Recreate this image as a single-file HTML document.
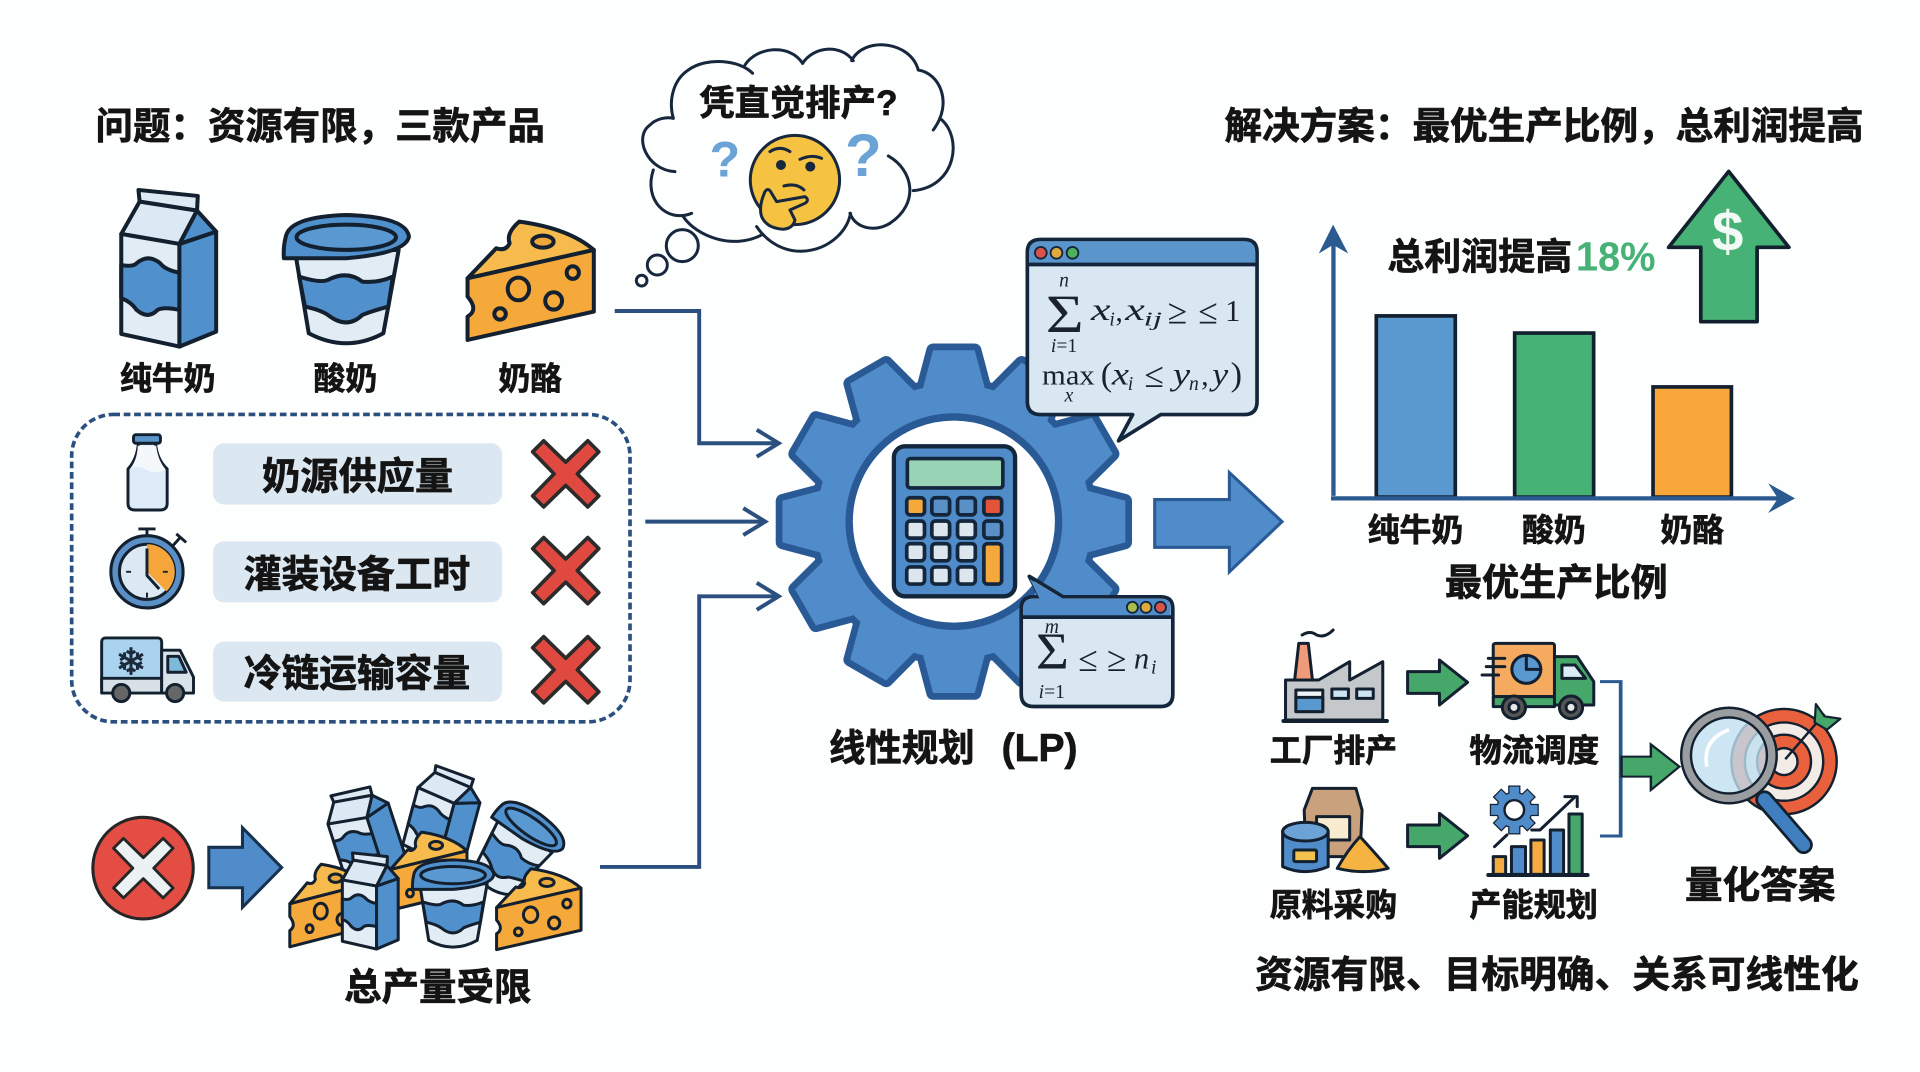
<!DOCTYPE html>
<html lang="zh">
<head>
<meta charset="utf-8">
<title>线性规划</title>
<style>
html,body{margin:0;padding:0;background:#fdfefe;width:1920px;height:1072px;overflow:hidden}
svg{display:block}
text{font-family:"Liberation Sans","Noto Sans CJK SC",sans-serif}
.t{font-weight:700;fill:#141414;stroke:#141414;stroke-width:.55px}
.m{font-family:"Liberation Serif","DejaVu Serif",serif;fill:#1a2230}
.i{font-style:italic}
.s *{vector-effect:non-scaling-stroke;stroke-linejoin:round;stroke-linecap:round}
.s{stroke:#13202f}
</style>
</head>
<body>
<svg xmlns="http://www.w3.org/2000/svg" width="1920" height="1072" viewBox="0 0 1568 875.5">
<defs>
<g id="carton" class="s">
<path d="M205 330L360 348L358 392L208 365Z" fill="#dde9f3"/>
<path d="M160 462L208 365L358 392L312 492Z" fill="#dce8f3"/>
<path d="M160 462L312 492L312 800L160 762Z" fill="#e2ecf4"/>
<path d="M160 555Q190 562 200 550Q230 520 262 550Q275 570 312 578L312 690Q270 680 255 690Q230 720 200 690Q185 665 160 655Z" fill="#5090cc"/>
<path d="M312 492L408 455L408 755L312 800Z" fill="#5090cc"/>
<path d="M358 392L408 455L312 492Z" fill="#5090cc"/>
</g>
<g id="cup" class="s">
<path d="M615 520L650 760Q748 820 845 760L885 510Z" fill="#e2ecf4"/>
<path d="M625 590Q680 610 700 600Q750 570 790 605Q830 610 870 590L858 680Q810 695 790 705Q750 750 700 705Q680 690 640 680Z" fill="#5090cc"/>
<path d="M590 470Q600 410 748 405Q905 410 912 470Q905 520 748 535Q650 535 585 535Q583 500 590 470Z" fill="#5090cc"/>
<ellipse cx="748" cy="472" rx="130" ry="38" fill="#5a98d2"/>
</g>
<g id="cheese" class="s">
<path d="M1065 595L1140 505Q1165 515 1175 490Q1165 460 1200 425Q1330 445 1395 510Z" fill="#f6bb4c"/>
<path d="M1065 595L1395 510L1395 695L1065 780L1065 710Q1095 690 1065 650Z" fill="#f5a93b"/>
<ellipse cx="1262" cy="485" rx="28" ry="18" fill="#eda63c"/>
<ellipse cx="1198" cy="627" rx="28" ry="34" fill="#f5a93b"/>
<ellipse cx="1290" cy="663" rx="22" ry="26" fill="#f5a93b"/>
<ellipse cx="1150" cy="702" rx="15" ry="17" fill="#f5a93b"/>
<ellipse cx="1340" cy="578" rx="16" ry="19" fill="#f5a93b"/>
</g>
<polygon id="cross" points="-27,-18 -18,-27 0,-9.500 18,-27 27,-18 9.500,0 27,18 18,27 0,9.500 -18,27 -27,18 -9.500,0"/>
<polygon id="tooth" points="-26,-106 -17,-140 17,-140 26,-106"/>
<g id="gearshape">
<circle r="112"/>
<use href="#tooth"/><use href="#tooth" transform="rotate(30)"/><use href="#tooth" transform="rotate(60)"/><use href="#tooth" transform="rotate(90)"/><use href="#tooth" transform="rotate(120)"/><use href="#tooth" transform="rotate(150)"/><use href="#tooth" transform="rotate(180)"/><use href="#tooth" transform="rotate(210)"/><use href="#tooth" transform="rotate(240)"/><use href="#tooth" transform="rotate(270)"/><use href="#tooth" transform="rotate(300)"/><use href="#tooth" transform="rotate(330)"/>
</g>
<rect id="sgt" x="-4" y="-19" width="8" height="8"/>
<g id="sgear">
<circle r="14"/>
<use href="#sgt"/><use href="#sgt" transform="rotate(45)"/><use href="#sgt" transform="rotate(90)"/><use href="#sgt" transform="rotate(135)"/><use href="#sgt" transform="rotate(180)"/><use href="#sgt" transform="rotate(225)"/><use href="#sgt" transform="rotate(270)"/><use href="#sgt" transform="rotate(315)"/>
</g>
</defs>

<rect width="1568" height="876" fill="#fdfefe"/>

<!-- titles -->
<text class="t" x="78" y="113.600" font-size="30.500" textLength="367" lengthAdjust="spacingAndGlyphs">问题：资源有限，三款产品</text>
<text class="t" x="1000" y="113.600" font-size="30.500" textLength="522" lengthAdjust="spacingAndGlyphs">解决方案：最优生产比例，总利润提高</text>

<!-- products -->
<g transform="translate(49 65.300) scale(.3125 .2722)" stroke-width="4">
<use href="#carton"/><use href="#cup"/><use href="#cheese"/>
</g>
<text class="t" x="98" y="318" font-size="26" textLength="78" lengthAdjust="spacingAndGlyphs">纯牛奶</text>
<text class="t" x="256" y="318" font-size="26" textLength="52" lengthAdjust="spacingAndGlyphs">酸奶</text>
<text class="t" x="407" y="318" font-size="26" textLength="52" lengthAdjust="spacingAndGlyphs">奶酪</text>

<!-- dashed constraints box -->
<rect x="58.500" y="338.500" width="456" height="251" rx="34" fill="none" stroke="#2b5080" stroke-width="3" stroke-dasharray="5.500 3"/>
<rect x="174" y="362" width="236" height="50" rx="9" fill="#dce8f1"/>
<rect x="174" y="442" width="236" height="50" rx="9" fill="#dce8f1"/>
<rect x="174" y="524" width="236" height="49" rx="9" fill="#dce8f1"/>
<text class="t" x="214" y="399.800" font-size="31" textLength="156" lengthAdjust="spacingAndGlyphs">奶源供应量</text>
<text class="t" x="199" y="479.800" font-size="31" textLength="185" lengthAdjust="spacingAndGlyphs">灌装设备工时</text>
<text class="t" x="199" y="560.800" font-size="31" textLength="185" lengthAdjust="spacingAndGlyphs">冷链运输容量</text>
<g fill="#e0493f" stroke="#2b2b2b" stroke-width="3" stroke-linejoin="round">
<use href="#cross" transform="translate(462 387)"/>
<use href="#cross" transform="translate(462 466)"/>
<use href="#cross" transform="translate(462 547)"/>
</g>

<!-- bottle -->
<g stroke="#13202f" stroke-width="2.400" stroke-linejoin="round">
<path d="M113 362H127Q128 375 136.500 383V411Q136.500 416.500 131 416.500H110Q104.500 416.500 104.500 411V383Q112 375 113 362Z" fill="#dcebf7"/>
<path d="M106 383Q113 379 120 384Q128 388 135 383Q129 376 127.500 364H112.500Q112 376 106 383Z" fill="#f4f8fb" stroke="none"/>
<rect x="109" y="355" width="22" height="7" rx="2" fill="#5a95cc"/>
</g>
<!-- stopwatch -->
<g stroke="#13202f" stroke-linejoin="round">
<path d="M113 432H127M120 432V440M140 447L148 438M144 436L152 443" fill="none" stroke-width="2.400"/>
<circle cx="120" cy="467" r="29.500" fill="#5a90c6" stroke-width="2.500"/>
<circle cx="120" cy="467" r="22.500" fill="#dde9f2" stroke-width="2.500"/>
<path d="M120 467V444.500A22.500 22.500 0 0 1 136 483Z" fill="#f5a53a" stroke="none"/>
<path d="M120 448V470L130 481" fill="none" stroke-width="2.400"/>
<path d="M103 467H107M133 467H137M120 484V488" stroke-width="1.600"/>
</g>
<!-- reefer truck -->
<g stroke="#13202f" stroke-width="2.400" stroke-linejoin="round">
<rect x="83" y="521" width="49" height="44" rx="3" fill="#a9d3ef"/>
<rect x="83" y="554" width="49" height="12" fill="#d7e0e6"/>
<path d="M132 531H147L158 553V566H132Z" fill="#d7e2e9"/>
<path d="M137 536H146L152 549H137Z" fill="#7eb9da"/>
<circle cx="99" cy="566" r="7" fill="#666"/>
<circle cx="143" cy="566" r="7" fill="#666"/>
</g>
<text x="107" y="551" font-size="30" text-anchor="middle" fill="#1c2a3c" stroke="#1c2a3c" stroke-width=".7" style="font-family:'DejaVu Sans',sans-serif">❄</text>

<!-- bottom-left -->
<ellipse cx="116.800" cy="709" rx="41" ry="41.500" fill="#e34d43" stroke="#262626" stroke-width="2.500"/>
<g transform="translate(117 709) scale(.9)" fill="#ecf1f4" stroke="#262626" stroke-width="2.600" stroke-linejoin="round"><use href="#cross"/></g>
<polygon points="170.500,692 198,692 198,676 230,708.500 198,741 198,725 170.500,725" fill="#4f8cc9" stroke="#17324f" stroke-width="2.500" stroke-linejoin="miter"/>

<!-- pile -->
<g stroke-width="3">
<use href="#carton" transform="translate(297 680) rotate(-18) scale(.21 .16) translate(-282 -560)"/>
<use href="#carton" transform="translate(362 665) rotate(15) scale(.21 .16) translate(-282 -560)"/>
<use href="#cheese" transform="translate(350 712) scale(.19 .18) translate(-1230 -605)"/>
<use href="#cup" transform="translate(420 695) rotate(35) scale(.19 .19) translate(-748 -598)"/>
<use href="#cheese" transform="translate(268 740) scale(.19 .19) translate(-1230 -605)"/>
<use href="#cheese" transform="translate(440 743) scale(.209 .186) translate(-1230 -605)"/>
<use href="#carton" transform="translate(302 735) scale(.184 .167) translate(-282 -560)"/>
<use href="#cup" transform="translate(370 738) scale(.203 .185) translate(-748 -598)"/>
</g>
<text class="t" x="281" y="816.500" font-size="30.500" textLength="153" lengthAdjust="spacingAndGlyphs">总产量受限</text>

<!-- connectors -->
<g fill="none" stroke="#2b5080" stroke-width="3.200" stroke-linejoin="miter">
<path d="M502 254H571V362H634"/>
<path d="M618 351L636 362L618 373"/>
<path d="M527 426H623"/>
<path d="M607 415L625 426L607 437"/>
<path d="M490 708H571V487H634"/>
<path d="M618 476L636 487L618 498"/>
</g>

<!-- thought cloud -->
<g transform="translate(506.300 24.500) scale(.2722)">
<g fill="none" stroke="#17273e" stroke-width="9" stroke-linecap="round">
<path d="M398 130C360 90 260 80 205 120C160 150 145 210 160 265"/>
<path d="M375 105C410 50 510 40 548 100"/>
<path d="M548 100C580 50 660 40 700 92"/>
<path d="M695 92C730 20 870 30 895 120"/>
<path d="M895 120C960 130 1000 220 940 300"/>
<path d="M960 265C1030 320 1010 470 880 482"/>
<path d="M805 378C880 420 900 520 810 580C770 605 710 600 690 550"/>
<path d="M692 550C670 660 500 720 410 590"/>
<path d="M425 615C340 660 230 620 190 560"/>
<path d="M215 550C140 580 70 510 100 420"/>
<path d="M165 425C80 420 40 320 90 285C110 265 140 260 160 265"/>
<circle cx="187" cy="647" r="48"/>
<circle cx="112" cy="705" r="30"/>
<circle cx="65" cy="752" r="16"/>
</g>
<text x="315" y="440" font-size="150" font-weight="700" text-anchor="middle" fill="#6ba3d6">?</text>
<text x="730" y="438" font-size="180" font-weight="700" text-anchor="middle" fill="#6ba3d6">?</text>
<circle cx="525" cy="450" r="134" fill="#f5c242" stroke="#17273e" stroke-width="9"/>
<circle cx="483" cy="405" r="15" fill="#17273e"/>
<circle cx="571" cy="410" r="15" fill="#17273e"/>
<g fill="none" stroke="#17273e" stroke-width="9" stroke-linecap="round">
<path d="M450 365Q480 345 510 365"/>
<path d="M540 388Q575 372 605 385"/>
<path d="M492 468Q530 458 552 480"/>
</g>
<path d="M435 485Q445 470 455 490L470 515L555 500Q570 510 555 520L510 540L525 570Q520 595 490 598Q440 595 425 560Q415 530 435 485Z" fill="#f5c242" stroke="#17273e" stroke-width="9" stroke-linejoin="round"/>
</g>
<text class="t" x="571" y="94" font-size="29" textLength="162" lengthAdjust="spacingAndGlyphs">凭直觉排产?</text>

<!-- gear -->
<g transform="translate(779 426)">
<g fill="#2a5a96" stroke="#2a5a96" stroke-width="11" stroke-linejoin="round"><use href="#gearshape"/></g>
<g fill="#4f8cc9"><use href="#gearshape"/></g>
<circle r="85.500" fill="#fff" stroke="#2a5a96" stroke-width="6"/>
</g>

<!-- calculator -->
<rect x="730" y="364.500" width="99" height="122.500" rx="9" fill="#4f8cc9" stroke="#13263c" stroke-width="3.500"/>
<rect x="741" y="374.500" width="78" height="24" rx="2.500" fill="#97d3b4" stroke="#13263c" stroke-width="3"/>
<g stroke="#13263c" stroke-width="3">
<rect x="740.500" y="406.500" width="14.500" height="14" rx="3" fill="#f5a93b"/>
<rect x="761" y="406.500" width="14.500" height="14" rx="3" fill="#5a90c6"/>
<rect x="782" y="406.500" width="14.500" height="14" rx="3" fill="#5a90c6"/>
<rect x="803.500" y="406.500" width="14.500" height="14" rx="3" fill="#e2533a"/>
<rect x="740.500" y="425.500" width="14.500" height="14" rx="3" fill="#dde5ee"/>
<rect x="761" y="425.500" width="14.500" height="14" rx="3" fill="#dde5ee"/>
<rect x="782" y="425.500" width="14.500" height="14" rx="3" fill="#dde5ee"/>
<rect x="803.500" y="425.500" width="14.500" height="14" rx="3" fill="#5a90c6"/>
<rect x="740.500" y="444" width="14.500" height="14" rx="3" fill="#dde5ee"/>
<rect x="761" y="444" width="14.500" height="14" rx="3" fill="#dde5ee"/>
<rect x="782" y="444" width="14.500" height="14" rx="3" fill="#dde5ee"/>
<rect x="803.500" y="444" width="14.500" height="33" rx="3" fill="#f5a93b"/>
<rect x="740.500" y="463" width="14.500" height="14" rx="3" fill="#dde5ee"/>
<rect x="761" y="463" width="14.500" height="14" rx="3" fill="#dde5ee"/>
<rect x="782" y="463" width="14.500" height="14" rx="3" fill="#dde5ee"/>
</g>

<!-- bubble 1 -->
<path d="M850 195.600H1016Q1026.600 195.600 1026.600 206V328Q1026.600 338.600 1016 338.600H948L913.500 360L925 338.600H850Q839 338.600 839 328V206Q839 195.600 850 195.600Z" fill="#d9e7f2" stroke="#13263c" stroke-width="3" stroke-linejoin="round"/>
<path d="M850 197H1016Q1025 197 1025 206V216H840.500V206Q840.500 197 850 197Z" fill="#5a95cc"/>
<path d="M839 216H1026.600" stroke="#13263c" stroke-width="3"/>
<circle cx="850" cy="206.500" r="4.800" fill="#d9534a" stroke="#13263c" stroke-width="1.500"/>
<circle cx="862.800" cy="206.500" r="4.800" fill="#e0a93f" stroke="#13263c" stroke-width="1.500"/>
<circle cx="875.900" cy="206.500" r="4.800" fill="#4cb05f" stroke="#13263c" stroke-width="1.500"/>
<text class="m" x="854" y="271" font-size="44" textLength="31" lengthAdjust="spacingAndGlyphs">Σ</text>
<text class="m i" x="869" y="234" font-size="16" text-anchor="middle">n</text>
<text class="m" x="869" y="287.500" font-size="16" text-anchor="middle"><tspan class="i">i</tspan>=1</text>
<text class="m i" x="891" y="261.500" font-size="26" textLength="16" lengthAdjust="spacingAndGlyphs">x</text>
<text class="m i" x="906" y="266" font-size="16">i</text>
<text class="m" x="911" y="262" font-size="24">,</text>
<text class="m i" x="919" y="261.500" font-size="26" textLength="16" lengthAdjust="spacingAndGlyphs">x</text>
<text class="m i" x="934" y="266" font-size="16" textLength="15" lengthAdjust="spacingAndGlyphs">ij</text>
<text class="m" x="961.500" y="264" font-size="29" text-anchor="middle">≥</text>
<text class="m" x="986.500" y="264" font-size="29" text-anchor="middle">≤</text>
<text class="m" x="1006.800" y="262" font-size="25" text-anchor="middle">1</text>
<text class="m" x="851" y="314" font-size="23" textLength="43" lengthAdjust="spacingAndGlyphs">max</text>
<text class="m i" x="873" y="328" font-size="16" text-anchor="middle">x</text>
<text class="m" x="899" y="315" font-size="28">(</text>
<text class="m i" x="908" y="314" font-size="26" textLength="14" lengthAdjust="spacingAndGlyphs">x</text>
<text class="m i" x="921" y="318.500" font-size="16">i</text>
<text class="m" x="942.500" y="316" font-size="29" text-anchor="middle">≤</text>
<text class="m i" x="958" y="314" font-size="26" textLength="14" lengthAdjust="spacingAndGlyphs">y</text>
<text class="m i" x="971" y="318.500" font-size="16">n</text>
<text class="m" x="981" y="314.500" font-size="24">,</text>
<text class="m i" x="990" y="314" font-size="26" textLength="13" lengthAdjust="spacingAndGlyphs">y</text>
<text class="m" x="1005" y="315" font-size="28">)</text>

<!-- bubble 2 -->
<path d="M844 487.400H849.300L840.600 470.700L868.300 487.400H948Q957.800 487.400 957.800 497V567Q957.800 577 948 577H844Q834 577 834 567V497Q834 487.400 844 487.400Z" fill="#d9e7f2" stroke="#13263c" stroke-width="3" stroke-linejoin="round"/>
<path d="M844 489H849L841 473L868 489H948Q956 489 956 497V504H835.500V497Q835.500 489 844 489Z" fill="#4f8cc9"/>
<path d="M834 504H957.800" stroke="#13263c" stroke-width="3"/>
<circle cx="924.800" cy="496" r="4.500" fill="#a9bd4a" stroke="#13263c" stroke-width="1.500"/>
<circle cx="935.900" cy="496" r="4.500" fill="#e0a93f" stroke="#13263c" stroke-width="1.500"/>
<circle cx="947.700" cy="496" r="4.500" fill="#d9534a" stroke="#13263c" stroke-width="1.500"/>
<text class="m" x="846" y="546" font-size="42" textLength="27" lengthAdjust="spacingAndGlyphs">Σ</text>
<text class="m i" x="859" y="517" font-size="16" text-anchor="middle">m</text>
<text class="m" x="859" y="570" font-size="16" text-anchor="middle"><tspan class="i">i</tspan>=1</text>
<text class="m" x="888.500" y="548" font-size="29" text-anchor="middle">≤</text>
<text class="m" x="912" y="548" font-size="29" text-anchor="middle">≥</text>
<text class="m i" x="926" y="546" font-size="25">n</text>
<text class="m i" x="940" y="550" font-size="16">i</text>

<text class="t" x="677" y="621.500" font-size="30.500" textLength="119" lengthAdjust="spacingAndGlyphs">线性规划</text>
<text class="t" x="818" y="621.500" font-size="32" textLength="62" lengthAdjust="spacingAndGlyphs">(LP)</text>

<!-- big arrow -->
<polygon points="943,408 1004,408 1004,386 1047,426 1004,467 1004,447 943,447" fill="#4f8cc9" stroke="#2a5a96" stroke-width="2.500"/>

<!-- chart -->
<path d="M1089 405V195" stroke="#2b5a90" stroke-width="3.500"/>
<polygon points="1077,207 1088.700,183.500 1101,207 1088.700,200" fill="#2b5a90"/>
<g stroke="#13202f" stroke-width="3">
<rect x="1124" y="258" width="64.500" height="148" fill="#5a98d0"/>
<rect x="1237" y="272" width="64.500" height="134" fill="#46b276"/>
<rect x="1350" y="316" width="64" height="90" fill="#f9a63a"/>
</g>
<path d="M1087 407H1455" stroke="#2b5a90" stroke-width="3.500"/>
<polygon points="1444,394.700 1466,407 1444,419 1452,407" fill="#2b5a90"/>
<text class="t" x="1133" y="220" font-size="30" textLength="151" lengthAdjust="spacingAndGlyphs">总利润提高</text>
<text x="1287" y="221" font-size="33" font-weight="700" fill="#46b276" textLength="65" lengthAdjust="spacingAndGlyphs">18%</text>
<polygon points="1411.800,140 1461,202 1435,202 1435,262.700 1389,262.700 1389,202 1362.700,202" fill="#46b276" stroke="#13202f" stroke-width="3" stroke-linejoin="round"/>
<text x="1411" y="205" font-size="46" font-weight="700" fill="#f2faf5" text-anchor="middle">$</text>
<text class="t" x="1117" y="442" font-size="26" textLength="78" lengthAdjust="spacingAndGlyphs">纯牛奶</text>
<text class="t" x="1243" y="442" font-size="26" textLength="52" lengthAdjust="spacingAndGlyphs">酸奶</text>
<text class="t" x="1356" y="442" font-size="26" textLength="52" lengthAdjust="spacingAndGlyphs">奶酪</text>
<text class="t" x="1180" y="486.500" font-size="30.500" textLength="182" lengthAdjust="spacingAndGlyphs">最优生产比例</text>

<!-- lower right icons -->
<g transform="translate(1012.700 498.200) scale(.3379 .2722)">
<g class="s" stroke-width="3">
<path d="M150 75Q170 60 185 75Q205 85 225 60" fill="none"/>
<path d="M132 210L142 100H165L175 210Z" fill="#ef9a78"/>
<path d="M110 210H190L265 155V210L345 155V330H110Z" fill="#c5c8ca"/>
<rect x="135" y="240" width="65" height="65" fill="#eef3f6"/>
<rect x="135" y="262" width="65" height="43" fill="#5a98d0"/>
<rect x="222" y="237" width="40" height="28" fill="#cfe4f3"/>
<rect x="282" y="237" width="40" height="28" fill="#cfe4f3"/>
<path d="M105 333H355" stroke-width="4"/>
</g>
<g class="s" stroke-width="3">
<path d="M405 185H482V150L550 217L482 285V250H405Z" fill="#46a76a"/>
<path d="M405 645H482V610L550 677L482 745V710H405Z" fill="#46a76a"/>
<rect x="612" y="100" width="148" height="160" rx="6" fill="#f5ab5f"/>
<rect x="612" y="260" width="148" height="30" fill="#46a76a"/>
<path d="M760 140H815L855 215V285H760Z" fill="#46a76a"/>
<path d="M778 165H810L835 205H778Z" fill="#dcecf4"/>
<path d="M600 145H640M595 170H640M585 195H625" fill="none"/>
<ellipse cx="692" cy="178" rx="35" ry="42" fill="#5a98d0"/>
<path d="M692 136V178H727" fill="none"/>
<ellipse cx="662" cy="292" rx="28" ry="34" fill="#555"/>
<ellipse cx="662" cy="292" rx="12" ry="15" fill="#e8e8e8"/>
<ellipse cx="800" cy="292" rx="28" ry="34" fill="#555"/>
<ellipse cx="800" cy="292" rx="12" ry="15" fill="#e8e8e8"/>
</g>
<g class="s" stroke-width="3">
<path d="M175 535H280L295 600L290 740H160L155 600Z" fill="#c9a27d"/>
<rect x="185" y="620" width="80" height="70" fill="#f8ecd0"/>
<path d="M103 665V770Q157 800 213 770V665Z" fill="#4f8cc9"/>
<ellipse cx="158" cy="665" rx="55" ry="28" fill="#6ba3d6"/>
<rect x="130" y="720" width="55" height="35" rx="4" fill="#f2c14e"/>
<path d="M290 680Q320 720 358 775Q300 795 235 775Q260 720 290 680Z" fill="#f5b342"/>
</g>
<g class="s" stroke-width="3">
<rect x="612" y="740" width="30" height="53" fill="#f5ab3f"/>
<rect x="656" y="710" width="34" height="83" fill="#4f8cc9"/>
<rect x="703" y="690" width="32" height="103" fill="#f5ab3f"/>
<rect x="750" y="660" width="32" height="133" fill="#4f8cc9"/>
<rect x="795" y="612" width="32" height="181" fill="#46a76a"/>
<path d="M600 795H840" stroke-width="4"/>
<path d="M615 710L645 675M705 660H725L810 560M785 560H815V590" fill="none"/>
</g>
<path d="M870 215H920V678H870" fill="none" stroke="#2b5a90" stroke-width="9"/>
<path d="M922 440H993V403L1062 470L993 540V500H922Z" fill="#46a76a" stroke="#13202f" stroke-width="6"/>
</g>
<g transform="translate(1236.700 661.500)">
<g fill="#2a5a96" stroke="#13202f" stroke-width="2"><use href="#sgear"/></g>
<g fill="#4f8cc9"><use href="#sgear"/></g>
<circle r="8" fill="#fff" stroke="#13202f" stroke-width="2"/>
</g>

<!-- target + magnifier -->
<g stroke="#13202f" stroke-width="2">
<circle cx="1457" cy="622" r="43" fill="#e8603c"/>
<circle cx="1457" cy="622" r="32" fill="#f3ece6"/>
<circle cx="1457" cy="622" r="22" fill="#e8603c"/>
<circle cx="1457" cy="622" r="11" fill="#f3ece6"/>
</g>
<path d="M1458 620L1490 583" stroke="#13202f" stroke-width="2"/>
<path d="M1482 590L1483 575L1490 585L1503 587L1492 596Z" fill="#46a76a" stroke="#13202f" stroke-width="1.800" stroke-linejoin="round"/>
<path d="M1441 653L1473 690" stroke="#13202f" stroke-width="15" stroke-linecap="round"/>
<path d="M1441 653L1473 690" stroke="#3f7fc0" stroke-width="10.500" stroke-linecap="round"/>
<circle cx="1412" cy="617" r="35" fill="#bfe0f0" fill-opacity=".8" stroke="#9a9da0" stroke-width="8"/>
<circle cx="1412" cy="617" r="39" fill="none" stroke="#13202f" stroke-width="2"/>
<circle cx="1412" cy="617" r="31" fill="none" stroke="#13202f" stroke-width="2"/>
<path d="M1394 626Q1390 604 1412 596" fill="none" stroke="#fff" stroke-width="3"/>

<text class="t" x="1037" y="622" font-size="26" textLength="104" lengthAdjust="spacingAndGlyphs">工厂排产</text>
<text class="t" x="1200" y="622" font-size="26" textLength="106" lengthAdjust="spacingAndGlyphs">物流调度</text>
<text class="t" x="1037" y="748" font-size="26" textLength="104" lengthAdjust="spacingAndGlyphs">原料采购</text>
<text class="t" x="1200" y="748" font-size="26" textLength="105" lengthAdjust="spacingAndGlyphs">产能规划</text>
<text class="t" x="1376" y="733.500" font-size="30.500" textLength="123" lengthAdjust="spacingAndGlyphs">量化答案</text>
<text class="t" x="1025" y="806.500" font-size="30.500" textLength="493" lengthAdjust="spacingAndGlyphs">资源有限、目标明确、关系可线性化</text>
</svg>
</body>
</html>
